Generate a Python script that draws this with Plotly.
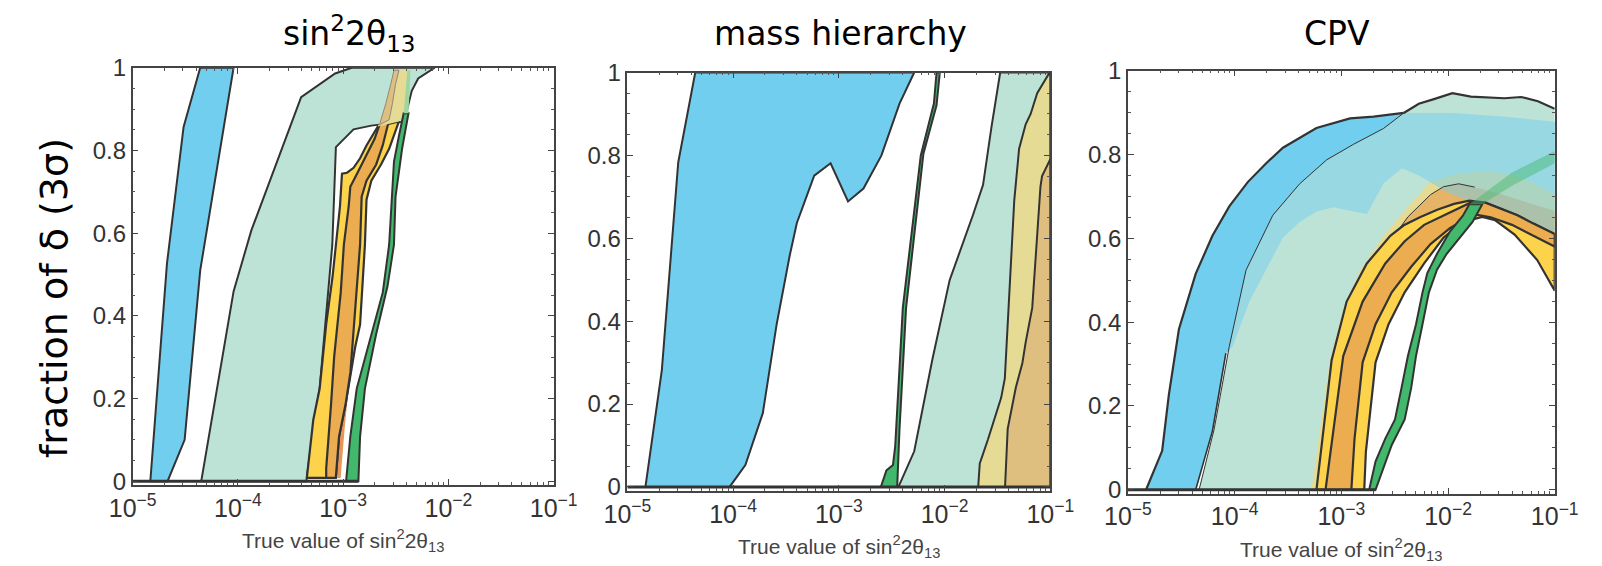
import numpy as np
import plotly.graph_objects as go

W, H = 1602, 566

# ---------------- text / ticks ----------------
X_TICK_VALUES = [1e-5, 1e-4, 1e-3, 1e-2, 1e-1]
X_TICK_LABELS = ["10<sup>−5</sup>", "10<sup>−4</sup>", "10<sup>−3</sup>", "10<sup>−2</sup>", "10<sup>−1</sup>"]
Y_TICK_VALUES = [0, 0.2, 0.4, 0.6, 0.8, 1]
Y_TICK_LABELS = ["0", "0.2", "0.4", "0.6", "0.8", "1"]
PANEL_TITLES = ["sin<sup>2</sup>2θ<sub>13</sub>", "mass hierarchy", "CPV"]
X_TITLE = "True value of sin<sup>2</sup>2θ<sub>13</sub>"
Y_TITLE = "fraction of δ (3σ)"

# ---------------- data: (log10 sin^2 2theta13, fraction of delta) ----------------
# Panel 1: sin^2 2theta13 discovery
P1_BLUE_LOG = [-4.832, -4.80, -4.674, -4.516, -4.358, -4.041, -4.196, -4.358, -4.506, -4.668]
P1_BLUE_FRAC = [0, 0.108, 0.526, 0.857, 1.0, 1.0, 0.76, 0.51, 0.10, 0]

P1_MINT_LOG = [-4.348, -4.041, -3.873, -3.399, -3.076, -2.918, -2.130, -2.287, -2.348, -2.394, -2.44,
               -2.655, -2.732, -2.901, -3.069, -3.103, -3.158, -3.223, -3.269, -3.35]
P1_MINT_FRAC = [0, 0.459, 0.606, 0.929, 0.986, 1.0, 1.0, 0.974, 0.944, 0.897, 0.869,
                0.862, 0.860, 0.851, 0.808, 0.572, 0.417, 0.224, 0.155, 0]

P1_RED_LOG = [-2.93, -2.985, -3.024, -3.070, -3.039, -2.977]
P1_RED_FRAC = [0.27, 0.13, 0.008, 0.008, 0.108, 0.186]

P1_YEL_LOG = [-3.345, -3.284, -3.223, -3.161, -3.100, -3.066, -3.03, -3.011, -2.963, -2.901, -2.839,
              -2.778, -2.732, -2.670, -2.470, -2.517, -2.563, -2.640, -2.732, -2.778, -2.793, -2.839,
              -2.885, -2.916, -2.977, -3.039, -3.070]
P1_YEL_FRAC = [0.008, 0.148, 0.224, 0.380, 0.496, 0.572, 0.665, 0.744, 0.746, 0.758, 0.781,
               0.812, 0.832, 0.858, 0.870, 0.835, 0.804, 0.766, 0.727, 0.681, 0.572, 0.379,
               0.325, 0.278, 0.186, 0.108, 0.008]
P1_YEL_TOP_LOG = [-2.670, -2.595, -2.549, -2.517, -2.379, -2.411, -2.470]
P1_YEL_TOP_FRAC = [0.858, 0.913, 0.959, 0.994, 0.994, 0.890, 0.870]

P1_ORG_LOG = [-3.161, -3.161, -3.115, -3.085, -3.023, -2.993, -2.947, -2.932, -2.855, -2.778, -2.701,
              -2.655, -2.563, -2.624, -2.686, -2.778, -2.824, -2.839, -2.885, -2.931, -2.977, -3.039, -3.070]
P1_ORG_FRAC = [0.008, 0.031, 0.186, 0.302, 0.456, 0.572, 0.665, 0.712, 0.750, 0.789, 0.828,
               0.862, 0.874, 0.812, 0.766, 0.727, 0.688, 0.572, 0.418, 0.263, 0.186, 0.108, 0.008]
P1_ORG_TOP_LOG = [-2.655, -2.595, -2.549, -2.517, -2.470, -2.503, -2.532, -2.563]
P1_ORG_TOP_FRAC = [0.862, 0.913, 0.959, 0.994, 0.994, 0.959, 0.913, 0.874]

P1_GRN_LOG = [-2.972, -2.932, -2.871, -2.747, -2.624, -2.563, -2.517, -2.470, -2.425,
              -2.379, -2.440, -2.502, -2.517, -2.578, -2.686, -2.793, -2.839, -2.855]
P1_GRN_FRAC = [0, 0.108, 0.224, 0.340, 0.456, 0.572, 0.773, 0.835, 0.890,
               0.890, 0.804, 0.688, 0.572, 0.472, 0.356, 0.224, 0.108, 0]
P1_GRN_TOP_LOG = [-2.425, -2.39, -2.36, -2.379]
P1_GRN_TOP_FRAC = [0.890, 0.994, 0.994, 0.890]

# Panel 2: mass hierarchy
P2_BLUE_LOG = [-4.829, -4.674, -4.519, -4.358, -2.287, -2.426, -2.597, -2.767, -2.913, -3.078, -3.233,
               -3.397, -3.465, -3.589, -3.719, -3.884, -4.033]
P2_BLUE_FRAC = [0, 0.282, 0.783, 1.0, 1.0, 0.925, 0.800, 0.720, 0.689, 0.781, 0.751,
                0.637, 0.558, 0.391, 0.178, 0.053, 0]

P2_GRN_LOG = [-2.603, -2.550, -2.488, -2.467, -2.395, -2.312, -2.225, -2.101, -2.076,
              -2.045, -2.076, -2.200, -2.287, -2.364, -2.426, -2.448]
P2_GRN_FRAC = [0, 0.040, 0.053, 0.098, 0.432, 0.608, 0.800, 0.925, 1.0,
               1.0, 0.921, 0.804, 0.608, 0.432, 0.140, 0]

P2_MINT_LOG = [-2.436, -2.287, -2.116, -1.952, -1.729, -1.636, -1.558, -1.474, -1.0, -1.0]
P2_MINT_FRAC = [0, 0.086, 0.307, 0.499, 0.658, 0.729, 0.866, 1.0, 1.0, 0]

P2_KHAKI_LOG = [-1.682, -1.667, -1.589, -1.465, -1.430, -1.419, -1.388, -1.357, -1.341, -1.295, -1.233,
                -1.186, -1.124, -1.016, -1.0, -1.0]
P2_KHAKI_FRAC = [0, 0.057, 0.115, 0.215, 0.262, 0.316, 0.441, 0.624, 0.691, 0.816, 0.875,
                 0.900, 0.950, 0.996, 1.0, 0]

P2_TAN_LOG = [-1.428, -1.403, -1.326, -1.264, -1.233, -1.171, -1.124, -1.093, -1.078, -1.016, -1.0, -1.0]
P2_TAN_FRAC = [0, 0.140, 0.240, 0.299, 0.349, 0.432, 0.608, 0.725, 0.750, 0.783, 0.791, 0]

# Panel 3: CP violation
P3_BLUE_LOG = [-4.830, -4.679, -4.616, -4.522, -4.365, -4.208, -4.050, -3.877, -3.704, -3.547, -3.233,
               -2.918, -2.698, -2.415, -1.943, -1.472, -1.0,
               -1.0, -1.252, -1.535, -1.786, -2.006, -2.258, -2.431, -2.604, -2.761, -3.075, -3.233,
               -3.390, -3.547, -3.862, -4.019, -4.082, -4.208, -4.365]
P3_BLUE_FRAC = [0, 0.093, 0.227, 0.383, 0.515, 0.606, 0.676, 0.734, 0.779, 0.816, 0.863,
                0.886, 0.890, 0.899, 0.899, 0.890, 0.878,
                0.606, 0.631, 0.660, 0.688, 0.709, 0.748, 0.767, 0.731, 0.658, 0.674, 0.664,
                0.639, 0.602, 0.449, 0.342, 0.326, 0.140, 0]

P3_MINT_LOG = [-4.333, -4.192, -4.050, -3.893, -3.642, -3.390, -3.138, -2.887, -2.604, -2.415,
               -2.274, -2.132, -1.959, -1.786, -1.472, -1.314, -1.157, -1.0,
               -1.0, -1.2, -1.4, -1.6, -1.8, -1.95, -2.26, -2.52, -2.73, -2.92, -3.06, -3.20]
P3_MINT_FRAC = [0, 0.144, 0.342, 0.524, 0.655, 0.730, 0.787, 0.824, 0.862, 0.899,
                0.921, 0.932, 0.946, 0.938, 0.934, 0.937, 0.927, 0.909,
                0.59, 0.615, 0.64, 0.66, 0.67, 0.66, 0.63, 0.59, 0.53, 0.44, 0.30, 0]

P3_KHAKI_LOG = [-3.280, -3.201, -3.107, -2.981, -2.824, -2.604, -2.384, -2.164, -1.943, -1.692, -1.472,
                -1.252, -1.0,
                -1.0, -1.2, -1.4, -1.6, -1.8, -1.95, -2.26, -2.52, -2.73, -2.92, -3.06, -3.20]
P3_KHAKI_FRAC = [0, 0.144, 0.309, 0.433, 0.523, 0.606, 0.672, 0.735, 0.752, 0.760, 0.756,
                 0.738, 0.705,
                 0.59, 0.615, 0.64, 0.66, 0.67, 0.66, 0.63, 0.59, 0.53, 0.44, 0.30, 0]

P3_TAN_LOG = [-2.45, -2.376, -2.164, -2.043, -1.90, -1.75, -1.50, -1.25, -1.0,
              -1.0, -1.5, -1.9, -2.2, -2.45]
P3_TAN_FRAC = [0.625, 0.651, 0.704, 0.723, 0.730, 0.722, 0.705, 0.685, 0.665,
               0.60, 0.66, 0.67, 0.65, 0.62]

P3_YEL_LOG = [-3.233, -3.091, -2.950, -2.761, -2.541, -2.415, -2.258, -2.101, -1.943, -1.80, -1.65,
              -1.50, -1.35, -1.2, -1.0,
              -1.0, -1.164, -1.376, -1.557, -1.679, -1.861, -2.043, -2.224, -2.406, -2.557, -2.679,
              -2.770, -2.785]
P3_YEL_FRAC = [0, 0.309, 0.449, 0.540, 0.606, 0.631, 0.651, 0.668, 0.682, 0.690, 0.685,
               0.670, 0.655, 0.635, 0.610,
               0.475, 0.548, 0.609, 0.643, 0.651, 0.639, 0.601, 0.540, 0.471, 0.395, 0.304,
               0.090, 0]

P3_ORG_LOG = [-3.148, -2.982, -2.800, -2.588, -2.406, -2.224, -2.012, -1.90, -1.78, -1.65, -1.50,
              -1.35, -1.2, -1.0,
              -1.0, -1.2, -1.4, -1.6, -1.75, -1.83, -1.982, -2.164, -2.345, -2.527, -2.679, -2.800,
              -2.876, -2.906]
P3_ORG_FRAC = [0, 0.319, 0.449, 0.540, 0.593, 0.632, 0.658, 0.672, 0.686, 0.685, 0.670,
               0.655, 0.635, 0.610,
               0.580, 0.607, 0.632, 0.650, 0.657, 0.647, 0.624, 0.586, 0.532, 0.471, 0.395, 0.304,
               0.122, 0]

P3_GRN_LOG = [-2.739, -2.679, -2.588, -2.497, -2.436, -2.376, -2.300, -2.239, -2.194, -2.103, -1.982,
              -1.861, -1.800,
              -1.679, -1.770, -1.891, -2.012, -2.103, -2.179, -2.239, -2.300, -2.345, -2.406, -2.527,
              -2.618, -2.679]
P3_GRN_FRAC = [0, 0.068, 0.122, 0.168, 0.243, 0.319, 0.395, 0.471, 0.517, 0.563, 0.616,
               0.654, 0.681,
               0.681, 0.639, 0.601, 0.563, 0.525, 0.471, 0.395, 0.319, 0.243, 0.168, 0.107,
               0.045, 0]
P3_GRN_TOP_LOG = [-1.800, -1.40, -1.0, -1.0, -1.38, -1.679]
P3_GRN_TOP_FRAC = [0.681, 0.757, 0.808, 0.779, 0.728, 0.681]

# baselines (fraction = 0) extent per panel
BASE_LOG = [(-5.0, -2.855), (-5.0, -1.0), (-5.0, -2.679)]

# ---------------- colours ----------------
BLUE = "#72CEEE"
MINT = "#BCE3D6"
YEL = "#FDD34B"
ORG = "#EBAD50"
GRN = "#41B86B"
KHAKI = "#E5DB95"
TAN = "#DEBF7F"
REDORG = "#E8955A"
EDGE = "#333333"

# ---------------- layout geometry (pixels) ----------------
PANELS = [  # left, right, top, bottom
    (112, 546, 56, 491),
    (622, 1058, 61, 497),
    (1138, 1578, 59, 500),
]

fig = go.Figure()


def ax_ids(i):
    return ("x" if i == 0 else f"x{i+1}", "y" if i == 0 else f"y{i+1}")


def poly(i, lx, fy, fill, lw=0.0, lc=EDGE, opacity=1.0):
    xa, ya = ax_ids(i)
    x = list(10 ** np.array(lx, dtype=float))
    y = list(fy)
    fig.add_trace(go.Scatter(
        x=x + [x[0]], y=y + [y[0]], mode="lines", fill="toself", fillcolor=fill,
        line=dict(color=lc if lw > 0 else "rgba(0,0,0,0)", width=lw), opacity=opacity,
        xaxis=xa, yaxis=ya, hoverinfo="skip", showlegend=False))


def line(i, lx, fy, lw=2.0, lc=EDGE):
    xa, ya = ax_ids(i)
    fig.add_trace(go.Scatter(
        x=list(10 ** np.array(lx, dtype=float)), y=list(fy), mode="lines",
        line=dict(color=lc, width=lw), xaxis=xa, yaxis=ya, hoverinfo="skip", showlegend=False))


# ---- panel 1 ----
poly(0, P1_BLUE_LOG, P1_BLUE_FRAC, BLUE, 2)
poly(0, P1_MINT_LOG, P1_MINT_FRAC, MINT, 2)
poly(0, P1_RED_LOG, P1_RED_FRAC, REDORG, 0)
poly(0, P1_YEL_LOG, P1_YEL_FRAC, YEL, 2.2)
poly(0, P1_ORG_LOG, P1_ORG_FRAC, ORG, 2.2)
poly(0, P1_YEL_TOP_LOG, P1_YEL_TOP_FRAC, KHAKI, 0)
poly(0, P1_ORG_TOP_LOG, P1_ORG_TOP_FRAC, TAN, 0.8, "#777")
poly(0, P1_GRN_LOG, P1_GRN_FRAC, GRN, 2)
poly(0, P1_GRN_TOP_LOG, P1_GRN_TOP_FRAC, "#9FD6A0", 0)

# ---- panel 2 ----
poly(1, P2_BLUE_LOG, P2_BLUE_FRAC, BLUE, 2)
poly(1, P2_GRN_LOG, P2_GRN_FRAC, GRN, 2)
poly(1, P2_MINT_LOG, P2_MINT_FRAC, MINT, 2)
poly(1, P2_KHAKI_LOG, P2_KHAKI_FRAC, KHAKI, 2)
poly(1, P2_TAN_LOG, P2_TAN_FRAC, TAN, 2)

# ---- panel 3 ----
poly(2, P3_BLUE_LOG, P3_BLUE_FRAC, BLUE, 0)
poly(2, P3_MINT_LOG, P3_MINT_FRAC, MINT, 0)
poly(2, P3_KHAKI_LOG, P3_KHAKI_FRAC, KHAKI, 0)
poly(2, P3_TAN_LOG, P3_TAN_FRAC, "#E6B466", 0)
poly(2, P3_BLUE_LOG, P3_BLUE_FRAC, BLUE, 0, opacity=0.5)
line(2, P3_BLUE_LOG[:14], P3_BLUE_FRAC[:14], 2.2)
line(2, P3_BLUE_LOG[-3:], P3_BLUE_FRAC[-3:], 1.6)
line(2, P3_MINT_LOG[:10], P3_MINT_FRAC[:10], 1.0)
line(2, P3_MINT_LOG[9:18], P3_MINT_FRAC[9:18], 2.2)
line(2, P3_TAN_LOG[:6], P3_TAN_FRAC[:6], 1.0)
poly(2, P3_YEL_LOG, P3_YEL_FRAC, YEL, 2.2)
poly(2, P3_ORG_LOG, P3_ORG_FRAC, ORG, 2.2)
poly(2, P3_GRN_LOG, P3_GRN_FRAC, GRN, 2)
poly(2, P3_GRN_TOP_LOG, P3_GRN_TOP_FRAC, "rgba(65,184,107,0.45)", 0)

for i, (a, b) in enumerate(BASE_LOG):
    line(i, [a, b], [0, 0], 3.0)

# ---------------- axes ----------------
X_MINOR = [k * 10.0 ** d for d in range(-5, -1) for k in range(2, 10)]
Y_MINOR = [round(0.05 * j, 2) for j in range(21) if j % 4 != 0]

X_TICK_FONT = dict(family="Liberation Sans, Arial, sans-serif", size=25, color="#333")
Y_TICK_FONT = dict(family="Liberation Sans, Arial, sans-serif", size=24, color="#333")

layout = dict(
    width=W, height=H, margin=dict(l=0, r=0, t=0, b=0),
    paper_bgcolor="white", plot_bgcolor="white", showlegend=False,
)
annotations = []
for i, (l, r, t, b) in enumerate(PANELS):
    xk = "xaxis" if i == 0 else f"xaxis{i+1}"
    yk = "yaxis" if i == 0 else f"yaxis{i+1}"
    xa, ya = ax_ids(i)
    layout[xk] = dict(
        type="log", range=[-5, -1], domain=[l / W, r / W], anchor=ya,
        tickmode="array", tickvals=X_TICK_VALUES, ticktext=X_TICK_LABELS,
        ticks="inside", ticklen=6, tickwidth=1, tickcolor="#444",
        minor=dict(tickvals=X_MINOR, ticks="inside", ticklen=3, tickcolor="#555", tickwidth=1),
        showline=True, linecolor="#444", linewidth=1.6, mirror="ticks",
        showgrid=False, zeroline=False, tickfont=X_TICK_FONT,
    )
    layout[yk] = dict(
        range=[-0.0093, 1.0], domain=[1 - b / H, 1 - t / H], anchor=xa,
        tickmode="array", tickvals=Y_TICK_VALUES, ticktext=Y_TICK_LABELS,
        ticks="inside", ticklen=6, tickwidth=1, tickcolor="#444",
        minor=dict(tickvals=Y_MINOR, ticks="inside", ticklen=3, tickcolor="#555", tickwidth=1),
        showline=True, linecolor="#444", linewidth=1.6, mirror="ticks",
        showgrid=False, zeroline=False, tickfont=Y_TICK_FONT,
    )
    annotations.append(dict(
        text=X_TITLE, x=(l + r) / 2 / W, y=1 - (b + 58) / H, xref="paper", yref="paper",
        showarrow=False, xanchor="center", yanchor="middle",
        font=dict(family="Liberation Sans, Arial, sans-serif", size=21, color="#444")))

TITLE_POS = [(336, 20), (842, 20), (1354, 20)]
for txt, (px, py) in zip(PANEL_TITLES, TITLE_POS):
    annotations.append(dict(
        text=txt, x=px / W, y=1 - py / H, xref="paper", yref="paper", showarrow=False,
        xanchor="center", yanchor="middle",
        font=dict(family="DejaVu Sans, sans-serif", size=33, color="black")))

annotations.append(dict(
    text=Y_TITLE, x=31 / W, y=1 - 296 / H, xref="paper", yref="paper", showarrow=False,
    textangle=-90, xanchor="center", yanchor="middle",
    font=dict(family="DejaVu Sans, sans-serif", size=38, color="black")))

layout["annotations"] = annotations
fig.update_layout(**layout)
fig.write_html("out.html")
